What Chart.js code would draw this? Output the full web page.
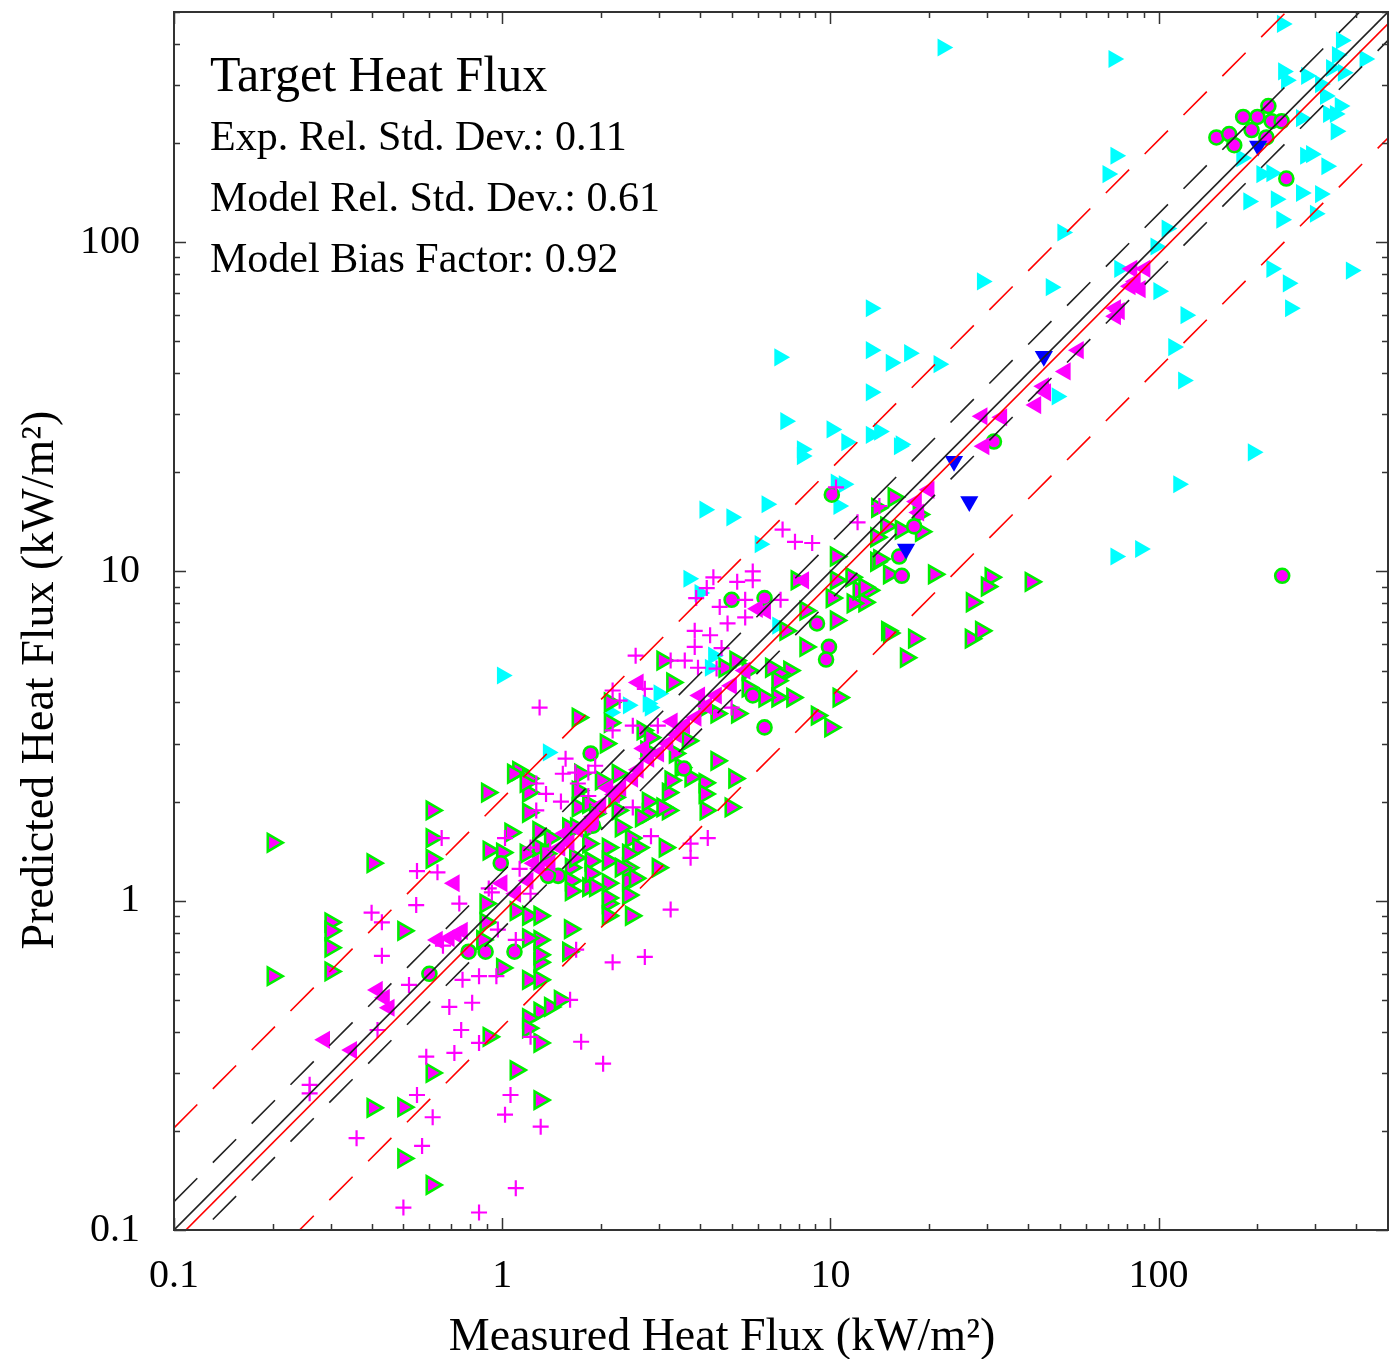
<!DOCTYPE html>
<html><head><meta charset="utf-8">
<script src="https://cdn.jsdelivr.net/npm/chart.js@4.4.1/dist/chart.umd.min.js"></script>
<style>html,body{margin:0;padding:0;background:#fff;}canvas{display:block;}</style>
</head><body>
<canvas id="c" width="1389" height="1359"></canvas>
<script>
// ---- text / stats ----
const titleText = 'Target Heat Flux';
const xTitle = 'Measured Heat Flux (kW/m²)';
const yTitle = 'Predicted Heat Flux (kW/m²)';
const xTickLabels = ['0.1', '1', '10', '100'];
const yTickLabels = ['0.1', '1', '10', '100'];
const axisMin = 0.1, axisMax = 500;
const expRelStdDev = 0.11;
const modelRelStdDev = 0.61;
const modelBias = 0.92;

// ---- series: [measured, predicted] ----
const cyanTriangles = [[22,390],[73,360],[238,460],[360,410],[350,370],[425,360],[240,330],[245,310],[282,320],[336,338],[365,327],[311,302],[322,278],[357,259],[329,245],[345,245],[272,238],[347,217],[280,183],[292,185],[325,170],[179,180],[206,161],[221,162],[74,183],[70,161],[188,133],[228,135],[272,141],[311,140],[237,117],[300,122],[106,110],[98,97],[221,83],[248,75],[386,82],[252,63],[121,60],[100,71],[76,83],[111,48],[119,38],[115,18.4],[194,23],[74,11.1],[88,11.7],[51,107],[29,76],[47,73],[13.3,63],[13.3,47],[15.3,43],[17.4,46],[21.4,42.6],[13.3,35],[49,34],[10.1,27],[11.2,24.7],[13.3,26],[14.1,26.6],[16.4,24.3],[10.4,18.6],[11,18.4],[10.6,15.8],[7.0,44.7],[7.3,28.6],[8.2,23.5],[8.2,22.4],[16.2,24],[4.14,15.4],[5.0,14.6],[6.4,16],[6.1,12.1],[3.7,9.5],[4.0,8.6],[6.9,6.85],[4.4,5.55],[4.3,5.1],[3.0,4.26],[2.78,3.97],[1.0,4.83],[1.38,2.82],[2.42,3.92],[2.14,3.73],[2.82,3.86]];

const blueTriangles = [[201,196],[44.7,45],[23.8,21.6],[26.5,16.3],[17,11.7]];

const leftTriangles = [[83,83],[91,83],[85,76],[82,73.5],[88,72],[76,61.7],[74,59.6],[74,63],[57,47],[52,40.5],[44.7,36.5],[45.3,35],[42.3,32],[29,29.6],[33.3,29.4],[29.4,24],[20,17.7],[18.3,16.3],[18.6,15.1],[8.3,9.4],[6.35,7.6],[6.0,7.7],[2.6,4.6],[0.715,1.13],[1.0,1.13],[0.417,0.536],[0.438,0.507],[0.453,0.473],[0.288,0.378],[0.348,0.352],[0.69,0.77],[0.725,0.79],[0.757,0.81],[0.635,0.76],[1.1,1.05],[1.2,1.15],[1.3,1.25],[1.4,1.3],[1.5,1.45],[1.6,1.5],[1.7,1.65],[1.8,1.7],[1.9,1.8],[2.0,1.95],[2.2,2.1],[2.3,2.2],[2.5,2.35],[2.6,2.5],[2.8,2.7],[3.0,2.8],[3.2,3.0],[3.4,3.2],[3.6,3.4],[3.9,3.6],[4.2,3.9],[4.5,4.2],[5.0,4.5],[5.5,5.0],[1.55,1.6],[2.1,2.2],[2.7,2.9],[3.3,3.5],[4.0,4.2],[1.25,1.3]];

const circles = [[150,208],[164,213],[170,197],[181,240],[200,240],[216,259],[221,233],[237,233],[192,219],[213,208],[245,156],[238,9.7],[31.5,24.8],[18,13.7],[16.5,9.7],[16.2,11.1],[10.1,17.1],[5.0,8.2],[6.3,8.3],[9.1,6.95],[9.9,5.9],[9.7,5.4],[5.8,4.2],[6.3,3.36],[1.86,2.8],[3.58,2.52],[0.99,1.3],[1.48,1.19],[1.89,1.69],[0.6,0.6],[0.79,0.7],[0.89,0.7],[1.09,0.7],[1.38,1.19]];

const crosses = [[14.1,15.8],[12.1,14.1],[7.15,13.4],[7.8,12.3],[8.8,12.2],[10.4,18],[5.8,10.0],[5.8,9.4],[4.4,9.6],[5.2,9.3],[4.2,8.9],[3.9,8.3],[5.5,8.2],[4.6,7.8],[7.05,8.2],[5.5,7.25],[4.86,6.95],[3.86,6.6],[4.3,6.4],[3.86,5.9],[4.66,5.85],[3.26,5.36],[3.6,5.36],[3.95,5.1],[4.5,5.07],[2.98,3.4],[5.0,3.86],[2.72,4.4],[2.55,5.55],[1.3,3.86],[2.17,4.35],[2.28,4.05],[2.17,3.29],[2.5,3.4],[1.56,2.7],[1.53,2.43],[1.67,2.45],[1.83,2.45],[1.92,2.57],[1.7,2.27],[1.27,2.27],[1.36,2.11],[1.51,2.0],[1.27,1.88],[1.83,2.08],[1.02,1.55],[1.13,1.25],[0.91,1.09],[2.84,1.57],[2.5,1.92],[3.75,1.49],[4.23,1.55],[3.75,1.35],[1.22,1.45],[1.4,1.44],[0.654,1.55],[0.55,1.23],[0.635,1.22],[0.74,0.98],[0.547,0.97],[0.43,0.86],[0.43,0.68],[0.4,0.92],[0.66,0.73],[0.85,0.59],[0.96,0.59],[0.757,0.575],[0.52,0.555],[0.97,0.817],[1.1,0.76],[1.22,1.05],[0.93,1.06],[0.69,0.476],[0.81,0.49],[0.75,0.405],[0.417,0.405],[0.715,0.345],[0.587,0.336],[0.85,0.37],[0.259,0.276],[0.259,0.26],[0.55,0.257],[0.614,0.22],[0.36,0.19],[0.57,0.18],[0.5,0.117],[0.85,0.113],[3.26,0.94],[1.68,0.71],[2.17,0.65],[2.72,0.675],[1.61,0.5],[1.22,0.386],[1.74,0.373],[2.03,0.32],[1.06,0.257],[1.02,0.224],[1.31,0.206],[1.1,0.134]];

const greenTriangles = [[0.2,1.5],[0.403,1.3],[0.3,0.86],[0.3,0.81],[0.3,0.72],[0.3,0.61],[0.2,0.59],[0.5,0.81],[0.61,0.30],[0.403,0.235],[0.5,0.236],[0.5,0.165],[0.61,0.137],[0.91,0.386],[1.61,0.82],[1.59,0.7],[2.1,0.98],[2.1,0.9],[2.47,0.9],[1.0,0.625],[1.2,0.575],[1.3,0.575],[1.3,0.65],[1.3,0.685],[1.3,0.76],[1.2,0.77],[1.3,0.46],[1.4,0.476],[1.5,0.5],[1.2,0.44],[1.2,0.41],[1.3,0.37],[1.1,0.306],[1.3,0.248],[1.1,0.93],[1.2,0.9],[1.3,0.9],[0.87,0.76],[2.1,1.02],[2.42,1.04],[2.42,1.15],[2.1,1.13],[1.83,1.1],[4.17,1.88],[4.97,1.92],[5.1,2.35],[4.14,2.28],[4.14,2.11],[3.13,1.45],[3.2,1.88],[3.2,2.13],[3.26,2.32],[2.78,1.84],[2.78,2.0],[2.47,1.55],[2.6,1.45],[2.1,1.45],[2.1,1.32],[1.86,1.32],[1.86,1.21],[1.62,1.26],[2.3,1.67],[2.25,1.88],[2.2,2.06],[2.0,2.32],[1.7,2.16],[1.7,1.92],[1.59,1.67],[1.86,1.67],[2.42,1.26],[2.42,1.39],[2.98,1.26],[20.7,9.8],[30.8,9.6],[30,9.0],[40.8,9.3],[27,8.06],[14.9,6.6],[18,6.25],[17,5.47],[26.8,6.25],[28.8,6.6],[15.1,9.8],[13.1,8.76],[12.7,8.06],[11.7,8.0],[13.8,10.7],[15.6,16.8],[18.6,14.9],[18.9,13.2],[14.8,13.7],[13.8,12.7],[16.4,13.4],[14.1,10.9],[12.2,8.76],[13.9,15.6],[11.6,9.6],[12.7,8.95],[10.4,11.1],[10.4,9.4],[10.1,8.3],[10.4,7.1],[8.4,7.6],[8.4,5.9],[7.3,6.6],[7.5,5.0],[6.98,4.9],[7.66,4.14],[6.9,4.14],[10.6,4.14],[9.1,3.65],[10,3.36],[15.1,6.5],[7.9,9.4],[3.08,5.36],[3.3,4.6],[6.3,4.14],[4.76,5.1],[5.14,5.36],[5.6,5.0],[6.9,4.66],[1.7,3.6],[2.13,4.0],[2.13,3.47],[1.12,2.48],[1.2,2.35],[1.2,2.13],[0.9,2.13],[1.2,1.85],[1.06,1.61],[0.91,1.42],[1.0,1.4],[2.25,2.43],[2.65,1.79],[3.08,1.92],[1.83,1.97],[1.92,1.84],[1.68,1.67],[1.83,1.49],[2.3,1.26],[1.67,1.35],[1.29,1.63],[1.29,1.45],[1.4,1.55],[1.36,1.39],[2.54,1.17],[1.92,1.1],[1.62,1.15],[1.62,1.07],[2.68,3.29],[2.82,3.13],[2.75,2.86],[3.36,2.8],[3.5,2.54],[3.75,2.37],[1.08,2.43],[1.18,2.28],[0.61,1.88],[0.61,1.55],[0.61,1.34],[1.18,1.39],[0.89,0.98],[0.89,0.86],[2.07,3.0],[1.73,2.43],[5.6,4.44],[6.6,5.1],[5.2,3.7],[4.5,3.7],[4.14,3.86],[3.68,3.06],[4.5,2.66]];

// ---- helpers ----
const FONT = '"Liberation Serif", "Times New Roman", serif';
const MAGENTA = '#ff00ff', GREEN = '#00ee00', CYAN = '#00ffff', BLUE = '#0000ff';
const toXY = a => a.map(p => ({x: p[0], y: p[1]}));
const refLine = f => [{x: axisMin, y: axisMin * f}, {x: axisMax, y: axisMax * f}];
const lineDs = (f, color, dash) => ({
  type: 'line', data: refLine(f), borderColor: color, borderWidth: 1.6,
  borderDash: dash, pointRadius: 0, showLine: true, fill: false, tension: 0
});
const ptDs = (pts, style, rot, r, bg, bc, bw) => ({
  type: 'scatter', data: toXY(pts), showLine: false,
  pointStyle: style, pointRotation: rot, pointRadius: r,
  pointBackgroundColor: bg, pointBorderColor: bc, pointBorderWidth: bw,
  backgroundColor: bg, borderColor: bc
});
const DASH = [33, 22];
const expF = 1 + 2 * expRelStdDev;
const modF = 1 + 2 * modelRelStdDev;

const datasets = [
  lineDs(1, '#222', []),
  lineDs(expF, '#222', DASH),
  lineDs(1 / expF, '#222', DASH),
  lineDs(modelBias, '#ff0000', []),
  lineDs(modelBias * modF, '#ff0000', DASH),
  lineDs(modelBias / modF, '#ff0000', DASH),
  ptDs(blueTriangles, 'triangle', 180, 10.5, BLUE, BLUE, 0),
  ptDs(leftTriangles, 'triangle', 270, 10.5, MAGENTA, MAGENTA, 0),
  ptDs(crosses, 'cross', 0, 8, MAGENTA, MAGENTA, 2.2),
  ptDs(circles, 'circle', 0, 7, MAGENTA, GREEN, 2.6),
  ptDs(greenTriangles, 'triangle', 90, 10, MAGENTA, GREEN, 2.6),
  ptDs(cyanTriangles, 'triangle', 90, 10.5, CYAN, CYAN, 0)
];

const isDecade = v => { const l = Math.log10(v); return Math.abs(l - Math.round(l)) < 1e-6; };
const labelFor = (list, v) => list.find(s => Math.abs(parseFloat(s) - v) < 1e-6 * v) || '';

const decorPlugin = {
  id: 'decor',
  afterDraw(chart) {
    const {ctx, chartArea: a, scales: {x, y}} = chart;
    ctx.save();
    ctx.strokeStyle = '#333'; ctx.lineWidth = 1.5;
    const vals = [];
    for (let e = -1; e <= 2; e++) for (let m = 1; m <= 9; m++) {
      const v = m * Math.pow(10, e);
      if (v >= axisMin * 0.999 && v <= axisMax * 1.001) vals.push(v);
    }
    vals.forEach(v => {
      const len = isDecade(v) ? 12 : 6;
      const px = Math.round(x.getPixelForValue(v)) + 0.5;
      const py = Math.round(y.getPixelForValue(v)) + 0.5;
      ctx.beginPath();
      ctx.moveTo(px, a.bottom); ctx.lineTo(px, a.bottom - len);
      ctx.moveTo(px, a.top); ctx.lineTo(px, a.top + len);
      ctx.moveTo(a.left, py); ctx.lineTo(a.left + len, py);
      ctx.moveTo(a.right, py); ctx.lineTo(a.right - len, py);
      ctx.stroke();
    });
    ctx.lineWidth = 2;
    ctx.strokeRect(a.left, a.top, a.right - a.left, a.bottom - a.top);
    ctx.fillStyle = '#000';
    ctx.textAlign = 'left'; ctx.textBaseline = 'alphabetic';
    ctx.font = '50px ' + FONT;
    ctx.fillText(titleText, 210, 91);
    ctx.font = '42px ' + FONT;
    ctx.fillText('Exp. Rel. Std. Dev.: ' + expRelStdDev.toFixed(2), 210, 150);
    ctx.fillText('Model Rel. Std. Dev.: ' + modelRelStdDev.toFixed(2), 210, 211);
    ctx.fillText('Model Bias Factor: ' + modelBias.toFixed(2), 210, 272);
    ctx.font = '46px ' + FONT;
    ctx.textAlign = 'center';
    ctx.fillText(xTitle, 722, 1350);
    ctx.translate(53, 680);
    ctx.rotate(-Math.PI / 2);
    ctx.fillText(yTitle, 0, 0);
    ctx.restore();
  }
};

Chart.defaults.font.family = FONT;
new Chart(document.getElementById('c'), {
  type: 'scatter',
  data: {datasets},
  options: {
    responsive: false, animation: false, events: [],
    devicePixelRatio: 1,
    layout: {autoPadding: false, padding: {top: 12, right: 1, left: 0, bottom: 0}},
    plugins: {legend: {display: false}, tooltip: {enabled: false}},
    scales: {
      x: {
        type: 'logarithmic', min: axisMin, max: axisMax, position: 'bottom',
        grid: {display: false, drawTicks: false}, border: {display: false},
        afterFit: s => { s.height = 129; s.paddingLeft = 0; s.paddingRight = 0; s.paddingTop = 0; s.paddingBottom = 0; },
        ticks: {autoSkip: false, maxRotation: 0, padding: 22, color: '#000',
          font: {size: 40, family: FONT},
          callback: v => isDecade(v) ? labelFor(xTickLabels, v) : ''}
      },
      y: {
        type: 'logarithmic', min: axisMin, max: axisMax, position: 'left',
        grid: {display: false, drawTicks: false}, border: {display: false},
        afterFit: s => { s.width = 174; s.paddingLeft = 0; s.paddingRight = 0; s.paddingTop = 0; s.paddingBottom = 0; },
        ticks: {autoSkip: false, padding: 34, color: '#000',
          font: {size: 40, family: FONT},
          callback: v => isDecade(v) ? labelFor(yTickLabels, v) : ''}
      }
    }
  },
  plugins: [decorPlugin]
});
</script>
</body></html>
